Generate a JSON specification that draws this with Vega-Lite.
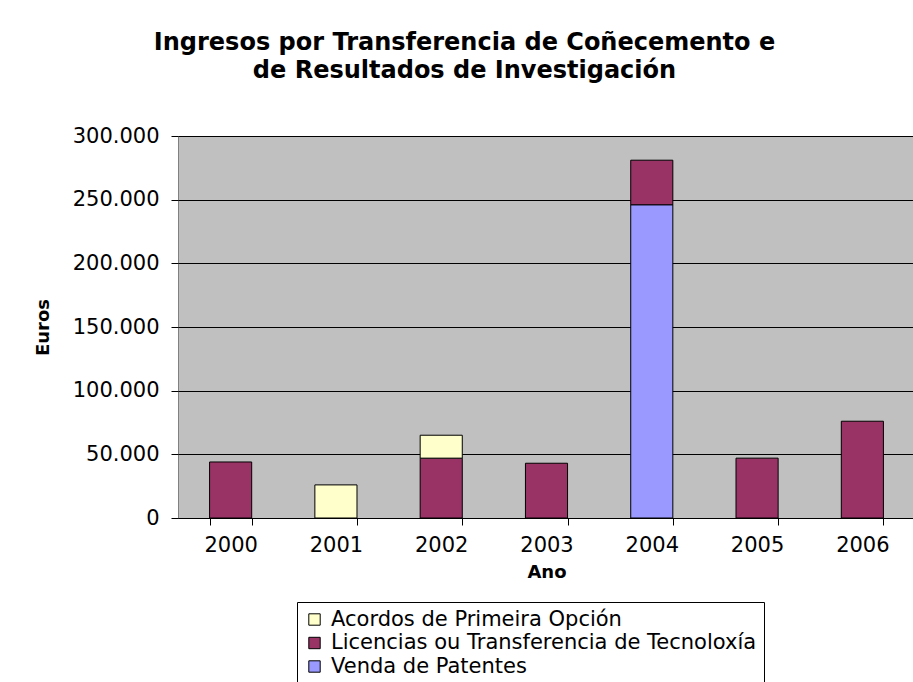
{
  "$schema": "https://vega.github.io/schema/vega-lite/v6.json",
  "width": 737,
  "height": 382,
  "autosize": {"type": "none"},
  "padding": {"left": 178, "top": 136, "right": 0, "bottom": 164},
  "background": "white",
  "config": {
    "locale": {"number": {"decimal": ",", "thousands": ".", "grouping": [3], "currency": ["", " €"]}},
    "font": "DejaVu Sans",
    "view": {"fill": "#C0C0C0", "stroke": "#808080", "strokeWidth": 1}
  },
  "title": {
    "text": ["Ingresos por Transferencia de Coñecemento e", "de Resultados de Investigación"],
    "font": "DejaVu Sans",
    "fontSize": 24,
    "fontWeight": "bold",
    "color": "black",
    "anchor": "middle",
    "lineHeight": 28,
    "offset": 42,
    "dx": -82
  },
  "data": {
    "values": [
      {"ano": "2000", "serie": "Licencias ou Transferencia de Tecnoloxía", "euros": 44000},
      {"ano": "2001", "serie": "Acordos de Primeira Opción", "euros": 26000},
      {"ano": "2002", "serie": "Licencias ou Transferencia de Tecnoloxía", "euros": 47000},
      {"ano": "2002", "serie": "Acordos de Primeira Opción", "euros": 18000},
      {"ano": "2003", "serie": "Licencias ou Transferencia de Tecnoloxía", "euros": 43000},
      {"ano": "2004", "serie": "Venda de Patentes", "euros": 246000},
      {"ano": "2004", "serie": "Licencias ou Transferencia de Tecnoloxía", "euros": 35000},
      {"ano": "2005", "serie": "Licencias ou Transferencia de Tecnoloxía", "euros": 47000},
      {"ano": "2006", "serie": "Licencias ou Transferencia de Tecnoloxía", "euros": 76000}
    ]
  },
  "mark": {"type": "bar", "stroke": "black", "strokeWidth": 1},
  "encoding": {
    "x": {
      "field": "ano",
      "type": "nominal",
      "scale": {"paddingInner": 0.6, "paddingOuter": 0.3},
      "axis": {
        "title": "Ano",
        "titleFont": "DejaVu Sans",
        "titleFontSize": 18,
        "titleFontWeight": "bold",
        "titleColor": "black",
        "titlePadding": 8,
        "labelAngle": 0,
        "labelFont": "DejaVu Sans",
        "labelFontSize": 21,
        "labelColor": "black",
        "labelPadding": 9,
        "tickBand": "extent",
        "tickColor": "black",
        "tickSize": 7,
        "domainColor": "black",
        "grid": false
      }
    },
    "y": {
      "field": "euros",
      "type": "quantitative",
      "aggregate": "sum",
      "stack": "zero",
      "scale": {"domain": [0, 300000], "nice": false},
      "axis": {
        "title": "Euros",
        "titleFont": "DejaVu Sans",
        "titleFontSize": 18,
        "titleFontWeight": "bold",
        "titleColor": "black",
        "titlePadding": 20,
        "values": [0, 50000, 100000, 150000, 200000, 250000, 300000],
        "format": ",d",
        "labelFont": "DejaVu Sans",
        "labelFontSize": 21,
        "labelColor": "black",
        "labelPadding": 12,
        "tickColor": "black",
        "tickSize": 7,
        "domain": false,
        "grid": true,
        "gridColor": "black",
        "gridWidth": 1,
        "gridOpacity": 1
      }
    },
    "color": {
      "field": "serie",
      "type": "nominal",
      "scale": {
        "domain": ["Acordos de Primeira Opción", "Licencias ou Transferencia de Tecnoloxía", "Venda de Patentes"],
        "range": ["#FFFFCC", "#993366", "#9999FF"]
      },
      "legend": {
        "title": null,
        "orient": "none",
        "legendX": 119,
        "legendY": 466,
        "direction": "vertical",
        "strokeColor": "black",
        "fillColor": "white",
        "padding": 7,
        "symbolType": "square",
        "symbolSize": 130,
        "symbolStrokeColor": "black",
        "symbolStrokeWidth": 1,
        "symbolOpacity": 1,
        "labelFont": "DejaVu Sans",
        "labelFontSize": 21,
        "labelColor": "black",
        "labelOffset": 6,
        "rowPadding": 1.5,
        "labelLimit": 600
      }
    },
    "order": {"field": "serie", "sort": "descending"}
  }
}
